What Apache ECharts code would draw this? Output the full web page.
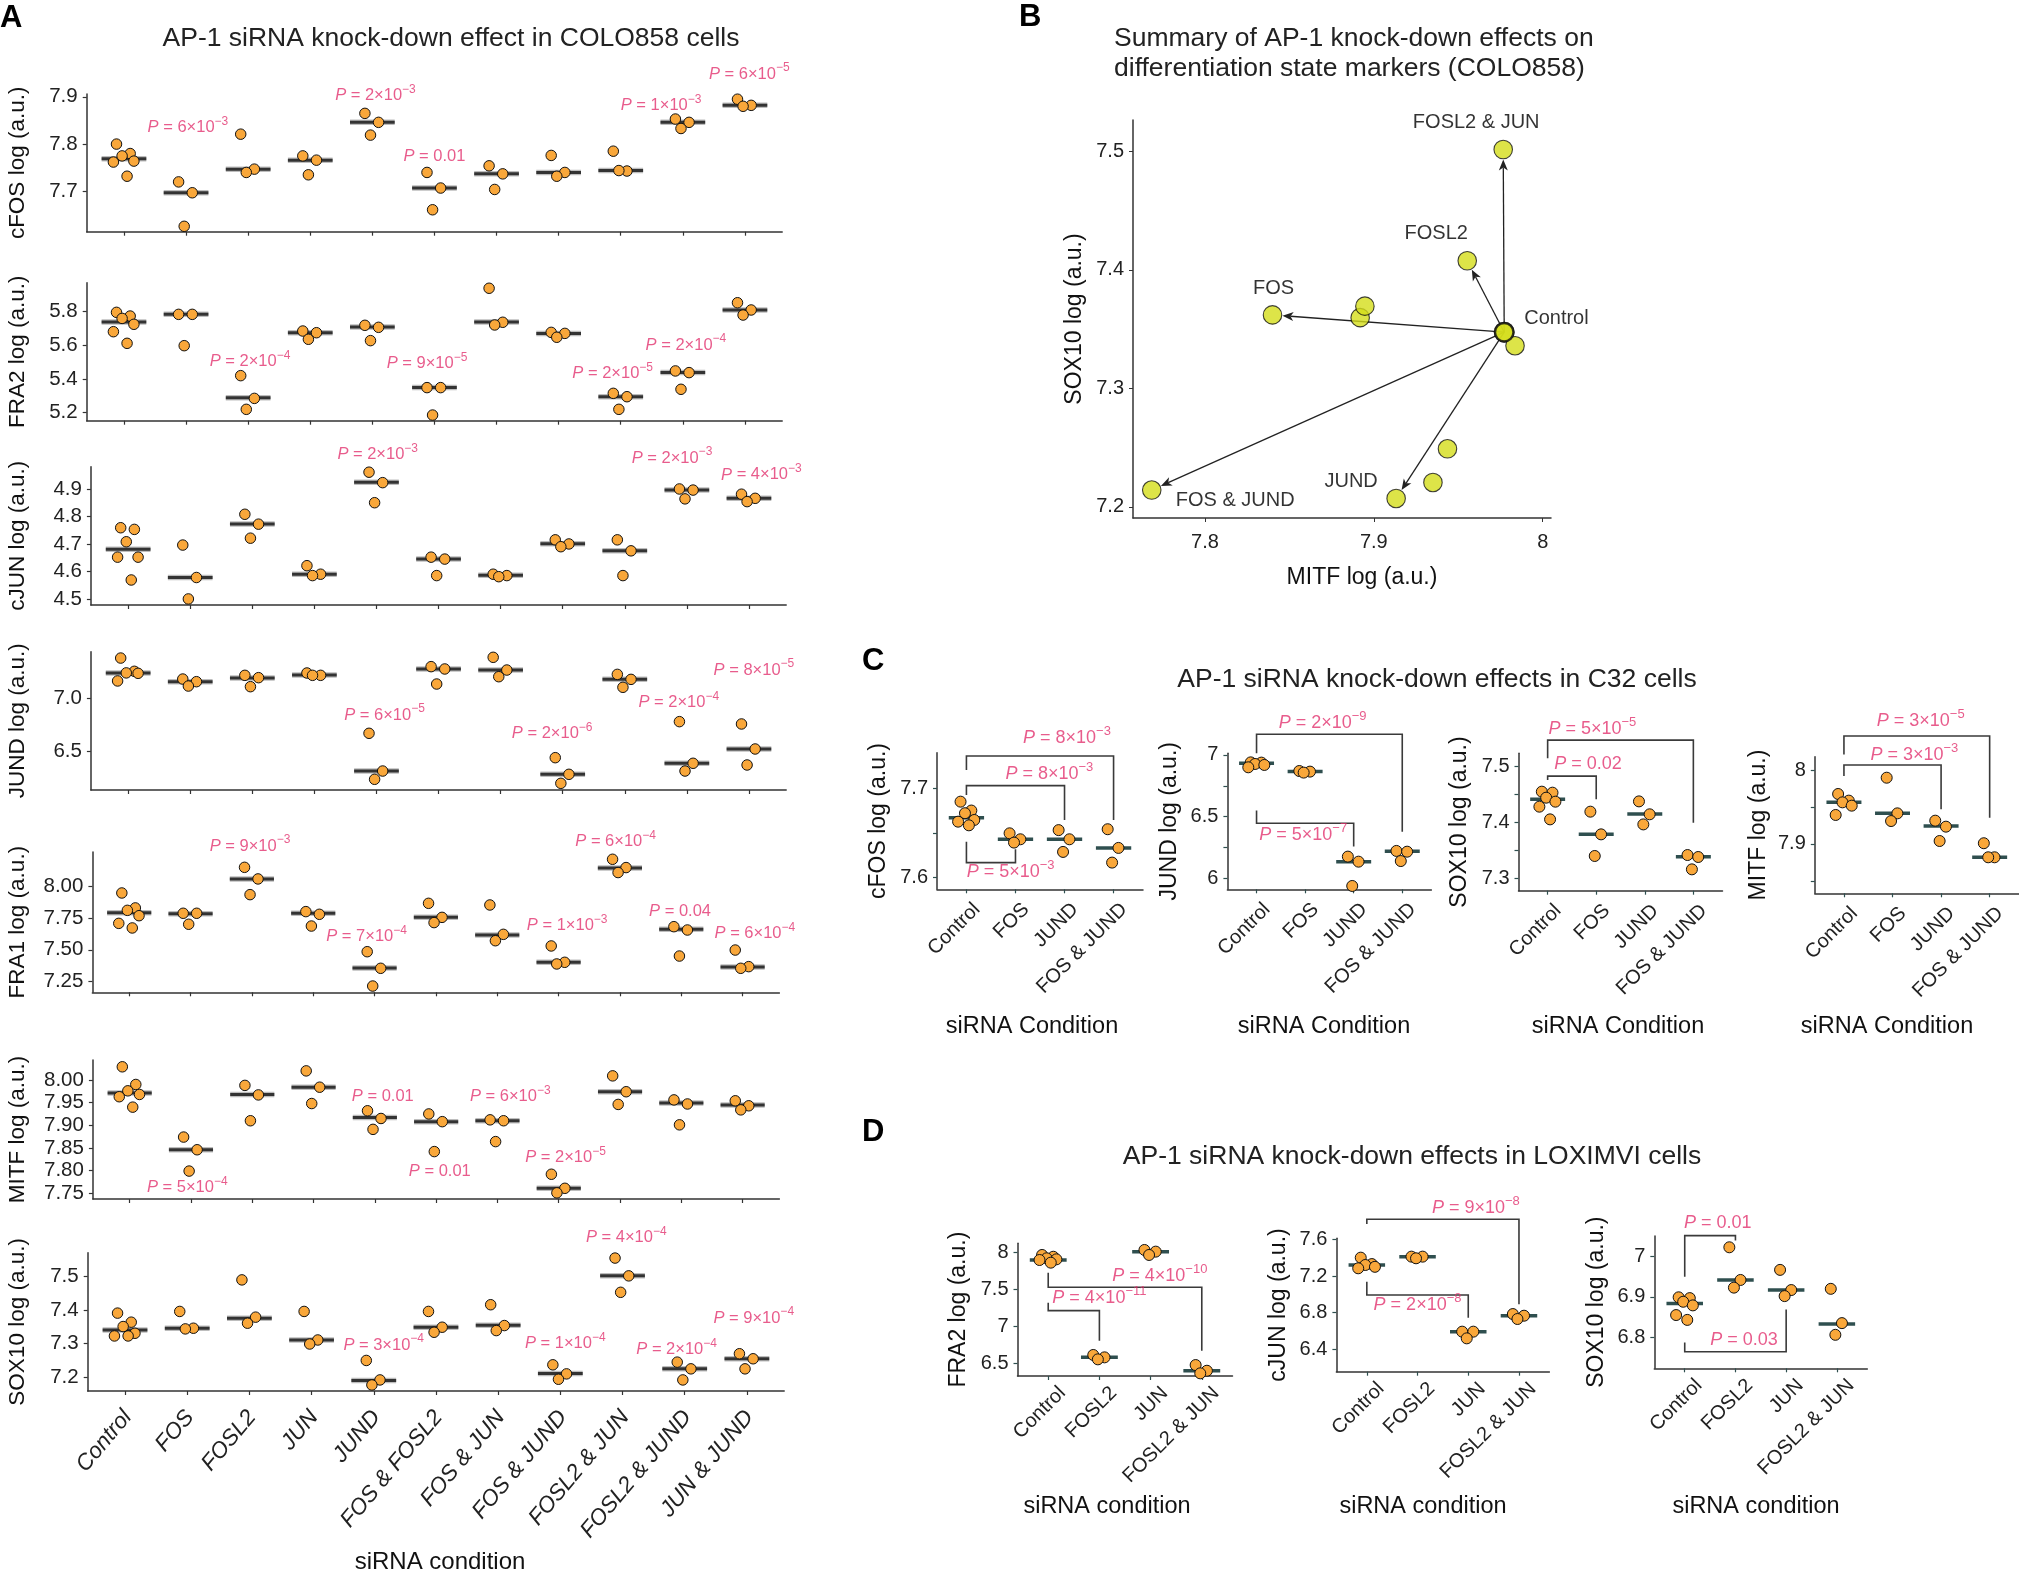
<!DOCTYPE html>
<html>
<head>
<meta charset="utf-8">
<script src="https://cdn.jsdelivr.net/npm/echarts@6/dist/echarts.min.js"></script>
<style>
  html, body { margin: 0; padding: 0; background: #fff; }
  #chart { width: 2019px; height: 1569px; }
</style>
</head>
<body>
<div id="chart"></div>
<script>
// ─── Data ────────────────────────────────────────

// Panel A: COLO858, 11 siRNA conditions
const A_CATS = ['Control', 'FOS', 'FOSL2', 'JUN', 'JUND', 'FOS & FOSL2', 'FOS & JUN',
  'FOS & JUND', 'FOSL2 & JUN', 'FOSL2 & JUND', 'JUN & JUND'];

const A_CFOS = [[7.800, 7.780, 7.775, 7.764, 7.762, 7.732], [7.72, 7.697, 7.626], [7.821, 7.747, 7.74],
  [7.775, 7.766, 7.735], [7.865, 7.846, 7.819], [7.74, 7.707, 7.661], [7.754, 7.737, 7.704],
  [7.776, 7.74, 7.732], [7.785, 7.743, 7.744], [7.853, 7.846, 7.833], [7.895, 7.882, 7.88]];
const A_CFOS_MED = [7.769, 7.697, 7.747, 7.766, 7.846, 7.707, 7.737, 7.74, 7.744, 7.846, 7.882];
const A_CFOS_P = [[1.03, 7.835, '6e-3'], [4.05, 7.902, '2e-3'], [5.0, 7.773, '0.01'], [8.65, 7.881, '1e-3'], [10.07, 7.948, '6e-5']];

const A_FRA2 = [[5.796, 5.774, 5.76, 5.725, 5.681, 5.612], [5.784, 5.784, 5.598], [5.42, 5.285, 5.22],
  [5.685, 5.675, 5.636], [5.719, 5.707, 5.628], [5.349, 5.349, 5.186], [5.939, 5.737, 5.721],
  [5.677, 5.671, 5.648], [5.315, 5.295, 5.22], [5.448, 5.438, 5.339], [5.853, 5.81, 5.78]];
const A_FRA2_MED = [5.739, 5.784, 5.289, 5.675, 5.709, 5.349, 5.739, 5.671, 5.295, 5.438, 5.81];
const A_FRA2_P = [[2.03, 5.503, '2e-4'], [4.88, 5.493, '9e-5'], [7.87, 5.434, '2e-5'], [9.05, 5.602, '2e-4']];

const A_CJUN = [[4.759, 4.753, 4.708, 4.652, 4.652, 4.569], [4.696, 4.578, 4.5], [4.808, 4.772, 4.721],
  [4.621, 4.59, 4.585], [4.961, 4.923, 4.85], [4.652, 4.645, 4.585], [4.59, 4.585, 4.581],
  [4.715, 4.7, 4.69], [4.715, 4.675, 4.585], [4.9, 4.896, 4.864], [4.881, 4.866, 4.854]];
const A_CJUN_MED = [4.681, 4.578, 4.773, 4.59, 4.924, 4.645, 4.586, 4.701, 4.675, 4.896, 4.866];
const A_CJUN_P = [[4.02, 5.024, '2e-3'], [8.76, 5.012, '2e-3'], [10.2, 4.951, '4e-3']];

const A_JUND = [[7.38, 7.255, 7.24, 7.236, 7.164], [7.182, 7.157, 7.116], [7.217, 7.195, 7.11],
  [7.239, 7.217, 7.217], [6.67, 6.314, 6.236], [7.299, 7.277, 7.135], [7.387, 7.267, 7.204],
  [6.44, 6.283, 6.198], [7.226, 7.179, 7.104], [6.78, 6.387, 6.314], [6.758, 6.522, 6.371]];
const A_JUND_MED = [7.239, 7.157, 7.192, 7.22, 6.314, 7.277, 7.267, 6.283, 7.179, 6.387, 6.522];
const A_JUND_P = [[4.13, 6.843, '6e-5'], [6.83, 6.67, '2e-6'], [8.87, 6.959, '2e-4'], [10.08, 7.267, '8e-5']];

const A_FRA1 = [[7.945, 7.828, 7.809, 7.767, 7.707, 7.671], [7.786, 7.786, 7.7], [8.146, 8.055, 7.932],
  [7.799, 7.778, 7.686], [7.485, 7.355, 7.216], [7.864, 7.754, 7.713], [7.851, 7.621, 7.571],
  [7.53, 7.402, 7.389], [8.209, 8.144, 8.105], [7.681, 7.655, 7.451], [7.498, 7.368, 7.355]];
const A_FRA1_MED = [7.791, 7.783, 8.055, 7.786, 7.357, 7.754, 7.616, 7.402, 8.141, 7.66, 7.365];
const A_FRA1_P = [[1.97, 8.313, '9e-3'], [3.87, 7.603, '7e-4'], [7.14, 7.689, '1e-3'], [7.93, 8.347, '6e-4'],
  [8.98, 7.798, '0.04'], [10.2, 7.629, '6e-4']];

const A_MITF = [[8.029, 7.99, 7.976, 7.968, 7.963, 7.94], [7.874, 7.846, 7.799], [7.988, 7.967, 7.91],
  [8.02, 7.984, 7.948], [7.932, 7.915, 7.891], [7.925, 7.908, 7.842], [7.912, 7.91, 7.864],
  [7.792, 7.761, 7.751], [8.009, 7.974, 7.946], [7.956, 7.947, 7.901], [7.954, 7.943, 7.934]];
const A_MITF_MED = [7.971, 7.846, 7.968, 7.984, 7.917, 7.908, 7.91, 7.761, 7.974, 7.949, 7.945];
const A_MITF_P = [[0.94, 7.762, '5e-4'], [4.13, 7.963, '0.01'], [5.06, 7.798, '0.01'], [6.21, 7.963, '6e-3'], [7.11, 7.829, '2e-5']];

const A_SOX10 = [[7.391, 7.364, 7.351, 7.331, 7.323, 7.323], [7.396, 7.346, 7.344], [7.49, 7.379, 7.361],
  [7.396, 7.311, 7.299], [7.25, 7.192, 7.177], [7.396, 7.349, 7.334], [7.416, 7.354, 7.339],
  [7.237, 7.21, 7.194], [7.555, 7.502, 7.453], [7.245, 7.225, 7.192], [7.27, 7.255, 7.225]];
const A_SOX10_MED = [7.341, 7.346, 7.376, 7.311, 7.19, 7.349, 7.355, 7.211, 7.502, 7.225, 7.255];
const A_SOX10_P = [[4.16, 7.296, '3e-4'], [7.08, 7.301, '1e-4'], [8.06, 7.616, '4e-4'], [8.87, 7.283, '2e-4'], [10.11, 7.376, '9e-4']];

// Panel B: MITF vs SOX10 summary
const B_NAMES = ['Control', 'FOS', 'FOSL2', 'JUN', 'JUND', 'FOS & FOSL2', 'FOS & JUN',
  'FOS & JUND', 'FOSL2 & JUN', 'FOSL2 & JUND', 'JUN & JUND'];
const B_MITF = [7.9772, 7.84, 7.9553, 7.9836, 7.9132, 7.8919, 7.8947, 7.7685, 7.9766, 7.935, 7.9436];
const B_SOX10 = [7.3474, 7.362, 7.4077, 7.336, 7.2071, 7.3597, 7.3694, 7.2142, 7.5016, 7.2206, 7.249];
const B_ARROW_TO = [1, 2, 4, 7, 8];

// Panel C: C32
const C_CATS = ['Control', 'FOS', 'JUND', 'FOS & JUND'];
const C_CFOS = [[7.685, 7.675, 7.672, 7.6644, 7.6625, 7.6584], [7.6494, 7.6427, 7.639], [7.653, 7.6427, 7.6285], [7.654, 7.633, 7.6165]];
const C_CFOS_MED = [7.667, 7.6427, 7.6427, 7.633];
const C_JUND = [[6.94, 6.938, 6.927, 6.919, 6.90], [6.87, 6.865, 6.857], [6.176, 6.135, 5.938], [6.222, 6.216, 6.14]];
const C_JUND_MED = [6.932, 6.865, 6.135, 6.219];
const C_SOX10 = [[7.4543, 7.4525, 7.4436, 7.4365, 7.4276, 7.405], [7.4187, 7.3783, 7.3398], [7.437, 7.414, 7.396], [7.3415, 7.338, 7.316]];
const C_SOX10_MED = [7.4407, 7.3783, 7.4145, 7.3386];
const C_MITF = [[7.9676, 7.9586, 7.9563, 7.9518, 7.9392], [7.9896, 7.9414, 7.931], [7.9315, 7.9234, 7.904], [7.901, 7.882, 7.882]];
const C_MITF_MED = [7.9563, 7.9414, 7.9243, 7.882];

const C_CFOS_P = [[0.9, 7.6063, '5e-3'], [1.69, 7.716, '8e-3'], [2.05, 7.757, '8e-3']];
const C_CFOS_BR = [[[0, 7.64], [0, 7.6165], [1, 7.6165], [1, 7.6315]],
  [[0, 7.6925], [0, 7.703], [2, 7.703], [2, 7.6644]],
  [[0, 7.7206], [0, 7.7363], [3, 7.7363], [3, 7.6644]]];
const C_JUND_P = [[1.36, 7.259, '2e-9'], [0.96, 6.351, '5e-7']];
const C_JUND_BR = [[[0, 7.0135], [0, 7.168], [3, 7.168], [3, 6.378]],
  [[0, 6.549], [0, 6.446], [2, 6.446], [2, 6.257]]];
const C_SOX10_P = [[0.83, 7.5036, '0.02'], [0.92, 7.566, '5e-5']];
const C_SOX10_BR = [[[0, 7.475], [0, 7.482], [1, 7.482], [1, 7.4407]],
  [[0, 7.5136], [0, 7.546], [3, 7.546], [3, 7.399]]];
const C_MITF_P = [[1.45, 8.0203, '3e-3'], [1.58, 8.0663, '3e-5']];
const C_MITF_BR = [[[0, 7.992], [0, 8.0068], [2, 8.0068], [2, 7.947]],
  [[0, 8.021], [0, 8.046], [3, 8.046], [3, 7.9356]]];

// Panel D: LOXIMVI
const D_CATS = ['Control', 'FOSL2', 'JUN', 'FOSL2 & JUN'];
const D_FRA2 = [[7.964, 7.94, 7.919, 7.905, 7.896, 7.86], [6.613, 6.581, 6.554], [8.0315, 8.009, 7.964], [6.477, 6.4, 6.365]];
const D_FRA2_MED = [7.896, 6.581, 8.009, 6.4];
const D_CJUN = [[7.40, 7.33, 7.32, 7.30, 7.284], [7.411, 7.411, 7.393], [6.593, 6.593, 6.52], [6.785, 6.767, 6.731]];
const D_CJUN_MED = [7.32, 7.411, 6.593, 6.767];
const D_SOX10 = [[6.899, 6.897, 6.888, 6.879, 6.855, 6.843], [7.023, 6.942, 6.923], [6.967, 6.917, 6.902], [6.92, 6.835, 6.806]];
const D_SOX10_MED = [6.8835, 6.942, 6.917, 6.833];

const D_FRA2_P = [[1.0, 7.383, '4e-11'], [2.18, 7.68, '4e-10']];
const D_FRA2_BR = [[[0, 7.32], [0, 7.212], [1, 7.212], [1, 6.806]],
  [[0, 7.725], [0, 7.527], [3, 7.527], [3, 6.671]]];
const D_CJUN_P = [[2.15, 7.941, '9e-8'], [1.0, 6.884, '2e-8']];
const D_CJUN_BR = [[[0, 7.767], [0, 7.818], [3, 7.818], [3, 6.891]],
  [[0, 7.138], [0, 6.993], [2, 6.993], [2, 6.745]]];
const D_SOX10_P = [[0.65, 7.083, '0.01'], [1.17, 6.793, '0.03']];
const D_SOX10_BR = [[[0, 6.95], [0, 7.052], [1, 7.052], [1, 7.04]],
  [[0, 6.787], [0, 6.764], [2, 6.764], [2, 6.869]]];

// ─── Styles ────────────────────────────────────────

const FONT = "'Liberation Sans', Arial, Helvetica, sans-serif";
const ORANGE = '#F9A73A';
const LIME = '#D4DD1A';
const PINK = '#E2336F';
const INK = '#222';
const JITTER = [-0.12, 0.1, -0.03, 0.16, -0.17, 0.05];

const grids = [];
const xAxes = [];
const yAxes = [];
const series = [];

function pText(p) {
  if (p.indexOf('e') >= 0) {
    const parts = p.split('e');
    return '{i|P}{n| = ' + parts[0] + '×10}{s|' + parts[1].replace('-', '−') + '}';
  }
  return '{i|P}{n| = ' + p + '}';
}

function pLabelSeries(gi, labels, fs) {
  const sup = Math.round(fs * 0.7);
  return {
    type: 'scatter', xAxisIndex: gi, yAxisIndex: gi, clip: false, silent: true,
    symbolSize: 1, itemStyle: { color: 'transparent' }, z: 5,
    data: labels.map(l => [l[0], l[1], l[2]]),
    label: {
      show: true, position: 'inside',
      formatter: p => pText(p.data[2]),
      rich: {
        i: { fontStyle: 'italic', fontSize: fs, color: PINK, fontFamily: FONT, verticalAlign: 'middle' },
        n: { fontSize: fs, color: PINK, fontFamily: FONT, verticalAlign: 'middle' },
        s: { fontSize: sup, color: PINK, fontFamily: FONT, verticalAlign: 'middle', padding: [0, 0, Math.round(fs * 0.7), 0] }
      }
    }
  };
}

// one strip panel: jittered points + median bar (+ brackets, p-values)
function stripPanel(cfg) {
  const gi = grids.length;
  const n = cfg.cats.length;
  grids.push({ left: cfg.box[0], top: cfg.box[1], width: cfg.box[2], height: cfg.box[3], containLabel: false });

  const idx = cfg.cats.map((c, i) => i);
  xAxes.push({
    type: 'value', gridIndex: gi, min: -0.6, max: n - 0.4,
    axisLine: { show: true, onZero: false, lineStyle: { color: '#333', width: 1.5 } },
    axisTick: { show: true, length: 4, customValues: idx, lineStyle: { color: cfg.tickColor || '#333', width: 1.2 } },
    axisLabel: {
      customValues: idx.map(i => i + cfg.labShift),
      formatter: v => cfg.cats[Math.round(v - cfg.labShift)],
      rotate: cfg.catRotate || 45, align: 'right', verticalAlign: 'top', margin: cfg.labMargin,
      fontSize: cfg.catSize || 20, color: INK, fontFamily: FONT, fontStyle: cfg.italic ? 'italic' : 'normal'
    },
    splitLine: { show: false }
  });

  yAxes.push({
    type: 'value', gridIndex: gi, min: cfg.yr[0], max: cfg.yr[1],
    name: cfg.name, nameLocation: 'middle', nameGap: cfg.nameGap, nameRotate: 90,
    nameTextStyle: { fontSize: cfg.nameSize || 23, color: '#111', fontFamily: FONT },
    axisLine: { show: true, onZero: false, lineStyle: { color: '#333', width: 1.5 } },
    axisTick: { show: true, length: 4, customValues: cfg.ticks, lineStyle: { color: cfg.tickColor || '#333', width: 1.2 } },
    axisLabel: {
      customValues: cfg.labels || cfg.ticks,
      formatter: v => (cfg.dec == null ? String(+v.toFixed(3)) : v.toFixed(cfg.dec)),
      margin: 9, fontSize: cfg.tickSize || 20, color: INK, fontFamily: FONT
    },
    splitLine: { show: false }
  });

  // brackets
  if (cfg.brackets) {
    series.push({
      type: 'custom', xAxisIndex: gi, yAxisIndex: gi, clip: false, silent: true, z: 1,
      data: cfg.brackets.map((b, k) => [b[0][0], b[0][1], k]),
      renderItem: (params, api) => {
        const br = cfg.brackets[api.value(2)];
        const pts = br.map(p => api.coord(p));
        return { type: 'polyline', shape: { points: pts }, style: { stroke: '#3a3a3a', lineWidth: 1.6, fill: null } };
      }
    });
  }

  // median bars
  const hw = cfg.barHalf;
  series.push({
    type: 'custom', xAxisIndex: gi, yAxisIndex: gi, clip: false, silent: true, z: 2,
    data: cfg.med.map((m, i) => [i, m]),
    renderItem: (params, api) => {
      const i = api.value(0), v = api.value(1);
      const a = api.coord([i - hw, v]);
      const b = api.coord([i + hw, v]);
      return {
        type: 'group',
        children: cfg.barLayers.map(l => ({
          type: 'line', shape: { x1: a[0], y1: a[1], x2: b[0], y2: b[1] },
          style: { stroke: l.color, lineWidth: l.width, lineCap: 'butt' }
        }))
      };
    }
  });

  // points
  const pts = [];
  cfg.vals.forEach((group, i) => group.forEach((v, k) => pts.push([i + JITTER[k % JITTER.length], v])));
  series.push({
    type: 'scatter', xAxisIndex: gi, yAxisIndex: gi, clip: false, silent: true, z: 3,
    symbolSize: cfg.size || 10.5,
    itemStyle: { color: ORANGE, borderColor: '#111', borderWidth: 1, opacity: 1 },
    data: pts
  });

  if (cfg.pvals) series.push(pLabelSeries(gi, cfg.pvals, cfg.pSize));
}

// ─── Panel A ────────────────────────────────────────
const A_BAR = [{ color: '#bdbdbd', width: 5.5 }, { color: '#333', width: 3 }];
const aRows = [
  { name: 'cFOS log (a.u.)', vals: A_CFOS, med: A_CFOS_MED, pvals: A_CFOS_P, box: [86.7, 94, 695.5, 137.7], yr: [7.6146, 7.906], ticks: [7.7, 7.8, 7.9], dec: 1 },
  { name: 'FRA2 log (a.u.)', vals: A_FRA2, med: A_FRA2_MED, pvals: A_FRA2_P, box: [86.7, 282.7, 695.5, 138], yr: [5.1525, 5.972], ticks: [5.2, 5.4, 5.6, 5.8], dec: 1 },
  { name: 'cJUN log (a.u.)', vals: A_CJUN, med: A_CJUN_MED, pvals: A_CJUN_P, box: [90.9, 466.7, 695.3, 138.3], yr: [4.478, 4.981], ticks: [4.5, 4.6, 4.7, 4.8, 4.9], dec: 1 },
  { name: 'JUND log (a.u.)', vals: A_JUND, med: A_JUND_MED, pvals: A_JUND_P, box: [90.9, 651.7, 695.3, 138.3], yr: [6.135, 7.44], ticks: [6.5, 7.0], dec: 1 },
  { name: 'FRA1 log (a.u.)', vals: A_FRA1, med: A_FRA1_MED, pvals: A_FRA1_P, box: [92.4, 852, 687, 140.3], yr: [7.167, 8.266], ticks: [7.25, 7.5, 7.75, 8.0], dec: 2 },
  { name: 'MITF log (a.u.)', vals: A_MITF, med: A_MITF_MED, pvals: A_MITF_P, box: [92.9, 1060, 686.5, 139], yr: [7.7374, 8.044], ticks: [7.75, 7.8, 7.85, 7.9, 7.95, 8.0], dec: 2 },
  { name: 'SOX10 log (a.u.)', vals: A_SOX10, med: A_SOX10_MED, pvals: A_SOX10_P, box: [87.7, 1252.7, 696.5, 138.3], yr: [7.159, 7.571], ticks: [7.2, 7.3, 7.4, 7.5], dec: 1 }
];
aRows.forEach((r, k) => {
  stripPanel(Object.assign({
    cats: k === aRows.length - 1 ? A_CATS : A_CATS.map(() => ''),
    nameGap: r.box[0] - 29, barHalf: 0.36, barLayers: A_BAR,
    labShift: -0.1, labMargin: 15, italic: true, catSize: 22.5, catRotate: 50, nameSize: 22.5, tickSize: 20.5,
    pSize: 16.5, size: 10.5
  }, r));
});

// ─── Panel B ────────────────────────────────────────
const bGi = grids.length;
grids.push({ left: 1133, top: 120, width: 418, height: 398 });
xAxes.push({
  type: 'value', gridIndex: bGi, min: 7.7574, max: 8.0049,
  axisLine: { show: true, onZero: false, lineStyle: { color: '#333', width: 1.5 } },
  axisTick: { show: true, length: 4, customValues: [7.8, 7.9, 8.0], lineStyle: { color: '#333' } },
  axisLabel: { customValues: [7.8, 7.9, 8.0], formatter: v => String(+v.toFixed(2)), margin: 14, fontSize: 20, color: INK, fontFamily: FONT },
  splitLine: { show: false }
});
yAxes.push({
  type: 'value', gridIndex: bGi, min: 7.1906, max: 7.5265,
  name: 'SOX10 log (a.u.)', nameLocation: 'middle', nameGap: 47, nameRotate: 90,
  nameTextStyle: { fontSize: 23, color: '#111', fontFamily: FONT },
  axisLine: { show: true, onZero: false, lineStyle: { color: '#333', width: 1.5 } },
  axisTick: { show: true, length: 4, customValues: [7.2, 7.3, 7.4, 7.5], lineStyle: { color: '#333' } },
  axisLabel: { customValues: [7.2, 7.3, 7.4, 7.5], formatter: v => v.toFixed(1), margin: 9, fontSize: 20, color: INK, fontFamily: FONT },
  splitLine: { show: false }
});

// arrows from control to selected knock-downs
series.push({
  type: 'custom', xAxisIndex: bGi, yAxisIndex: bGi, clip: false, silent: true, z: 1,
  data: B_ARROW_TO.map(t => [B_MITF[t], B_SOX10[t]]),
  renderItem: (params, api) => {
    const a = api.coord([B_MITF[0], B_SOX10[0]]);
    const b = api.coord([api.value(0), api.value(1)]);
    const dx = b[0] - a[0], dy = b[1] - a[1];
    const len = Math.sqrt(dx * dx + dy * dy);
    const ux = dx / len, uy = dy / len;
    const tip = [b[0] - ux * 10, b[1] - uy * 10];
    const base = [tip[0] - ux * 11, tip[1] - uy * 11];
    const notch = [tip[0] - ux * 8, tip[1] - uy * 8];
    const px = -uy, py = ux;
    return {
      type: 'group',
      children: [
        { type: 'line', shape: { x1: a[0], y1: a[1], x2: notch[0], y2: notch[1] }, style: { stroke: '#222', lineWidth: 1.3 } },
        {
          type: 'polygon',
          shape: { points: [tip, [base[0] + px * 4.5, base[1] + py * 4.5], notch, [base[0] - px * 4.5, base[1] - py * 4.5]] },
          style: { fill: '#222' }
        }
      ]
    };
  }
});

const B_LABEL_STYLE = {
  'Control': { align: 'left', offset: [20, -14] },
  'FOS': { align: 'center', offset: [1, -26] },
  'FOSL2': { align: 'center', offset: [-31, -27] },
  'JUND': { align: 'center', offset: [-45, -17] },
  'FOS & JUND': { align: 'left', offset: [24, 10] },
  'FOSL2 & JUN': { align: 'center', offset: [-27, -27] }
};
series.push({
  type: 'scatter', xAxisIndex: bGi, yAxisIndex: bGi, clip: false, silent: true, z: 3,
  symbolSize: 18.5,
  data: B_NAMES.map((nm, i) => {
    const ls = B_LABEL_STYLE[nm];
    return {
      value: [B_MITF[i], B_SOX10[i]],
      itemStyle: { color: LIME, borderColor: '#111', borderWidth: i === 0 ? 2.4 : 1.1 },
      label: ls ? { show: true, formatter: nm, position: 'inside', align: ls.align, offset: ls.offset,
        fontSize: 20, color: '#000', fontFamily: FONT } : { show: false }
    };
  })
});
// keep control on top
series.push({
  type: 'scatter', xAxisIndex: bGi, yAxisIndex: bGi, clip: false, silent: true, z: 4,
  symbolSize: 18.5, itemStyle: { color: LIME, borderColor: '#111', borderWidth: 2.4 },
  data: [[B_MITF[0], B_SOX10[0]]]
});

// ─── Panels C and D ────────────────────────────────────────
const CD_BAR = [{ color: '#2F4F4F', width: 3.5 }];
const cdCommon = { barLayers: CD_BAR, barHalf: 0.36, italic: false, pSize: 18, size: 11, labMargin: 10, tickColor: '#2F4F4F' };

stripPanel(Object.assign({}, cdCommon, { cats: C_CATS, name: 'cFOS log (a.u.)', vals: C_CFOS, med: C_CFOS_MED, pvals: C_CFOS_P, brackets: C_CFOS_BR,
  box: [937, 752.7, 206, 136.6], yr: [7.5865, 7.74], ticks: [7.6, 7.65, 7.7], labels: [7.6, 7.7], nameGap: 47, labShift: 0.07 }));
stripPanel(Object.assign({}, cdCommon, { cats: C_CATS, name: 'JUND log (a.u.)', vals: C_JUND, med: C_JUND_MED, pvals: C_JUND_P, brackets: C_JUND_BR,
  box: [1227.4, 753.3, 204, 136], yr: [5.911, 7.0135], ticks: [6, 6.25, 6.5, 6.75, 7], labels: [6, 6.5, 7], nameGap: 46, labShift: 0.07 }));
stripPanel(Object.assign({}, cdCommon, { cats: C_CATS, name: 'SOX10 log (a.u.)', vals: C_SOX10, med: C_SOX10_MED, pvals: C_SOX10_P, brackets: C_SOX10_BR,
  box: [1518.5, 753.3, 204, 137.4], yr: [7.278, 7.5226], ticks: [7.3, 7.35, 7.4, 7.45, 7.5], labels: [7.3, 7.4, 7.5], nameGap: 47, labShift: 0.07 }));
stripPanel(Object.assign({}, cdCommon, { cats: C_CATS, name: 'MITF log (a.u.)', vals: C_MITF, med: C_MITF_MED, pvals: C_MITF_P, brackets: C_MITF_BR,
  box: [1814.8, 756.7, 204, 136.6], yr: [7.8333, 8.018], ticks: [7.85, 7.9, 7.95, 8], labels: [7.9, 8], nameGap: 45, labShift: 0.07 }));

stripPanel(Object.assign({}, cdCommon, { cats: D_CATS, name: 'FRA2 log (a.u.)', vals: D_FRA2, med: D_FRA2_MED, pvals: D_FRA2_P, brackets: D_FRA2_BR,
  box: [1017.5, 1243.3, 215, 132.7], yr: [6.329, 8.1216], ticks: [6.5, 7, 7.5, 8], nameGap: 47, labShift: 0.14, labMargin: 7 }));
stripPanel(Object.assign({}, cdCommon, { cats: D_CATS, name: 'cJUN log (a.u.)', vals: D_CJUN, med: D_CJUN_MED, pvals: D_CJUN_P, brackets: D_CJUN_BR,
  box: [1336.4, 1238.3, 213, 133.4], yr: [6.1564, 7.611], ticks: [6.4, 6.8, 7.2, 7.6], nameGap: 46, labShift: 0.14, labMargin: 7 }));
stripPanel(Object.assign({}, cdCommon, { cats: D_CATS, name: 'SOX10 log (a.u.)', vals: D_SOX10, med: D_SOX10_MED, pvals: D_SOX10_P, brackets: D_SOX10_BR,
  box: [1654.3, 1236, 213, 132.3], yr: [6.723, 7.051], ticks: [6.8, 6.9, 7], nameGap: 46, labShift: 0.14, labMargin: 7 }));

// ─── Texts ────────────────────────────────────────
function txt(x, y, text, size, opts) {
  return Object.assign({
    type: 'text', x: x, y: y, silent: true,
    style: Object.assign({ text: text, fontSize: size, fontFamily: FONT, fill: '#111', textAlign: 'center', textVerticalAlign: 'middle' }, (opts || {}).style)
  }, opts && opts.el);
}
const letter = (x, y, t) => txt(x, y, t, 31, { style: { fontWeight: 'bold', textAlign: 'left', textVerticalAlign: 'top', fill: '#000' } });

const graphics = [
  letter(0, 3, 'A'),
  letter(1019, 2, 'B'),
  letter(862, 646, 'C'),
  letter(862, 1117, 'D'),
  txt(451, 39, 'AP-1 siRNA knock-down effect in COLO858 cells', 26.5, { style: { fill: '#222' } }),
  txt(1114, 39, 'Summary of AP-1 knock-down effects on', 26.5, { style: { textAlign: 'left', fill: '#222' } }),
  txt(1114, 69, 'differentiation state markers (COLO858)', 26.5, { style: { textAlign: 'left', fill: '#222' } }),
  txt(1437, 680, 'AP-1 siRNA knock-down effects in C32 cells', 26.5, { style: { fill: '#222' } }),
  txt(1412, 1157, 'AP-1 siRNA knock-down effects in LOXIMVI cells', 26.5, { style: { fill: '#222' } }),
  txt(1362, 578, 'MITF log (a.u.)', 23),
  txt(440, 1562, 'siRNA condition', 24),
  txt(1032, 1027, 'siRNA Condition', 23.5),
  txt(1324, 1027, 'siRNA Condition', 23.5),
  txt(1618, 1027, 'siRNA Condition', 23.5),
  txt(1887, 1027, 'siRNA Condition', 23.5),
  txt(1107, 1507, 'siRNA condition', 23.5),
  txt(1423, 1507, 'siRNA condition', 23.5),
  txt(1756, 1507, 'siRNA condition', 23.5)
];

const chart = echarts.init(document.getElementById('chart'), null, { renderer: 'canvas' });
chart.setOption({
  animation: false,
  backgroundColor: '#fff',
  grid: grids,
  xAxis: xAxes,
  yAxis: yAxes,
  series: series,
  graphic: graphics
});
</script>
</body>
</html>
